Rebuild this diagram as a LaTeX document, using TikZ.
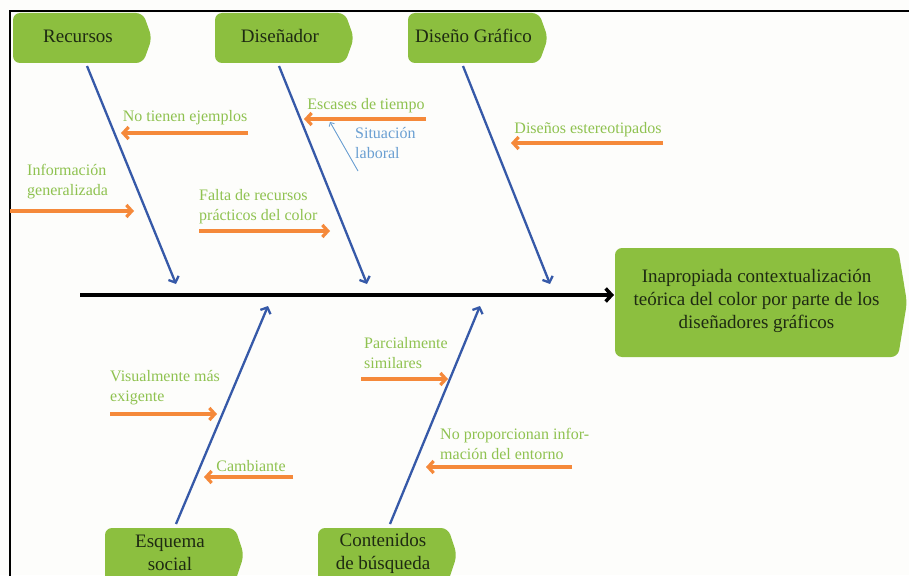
\documentclass[tikz,border=0pt]{standalone}
\usepackage{fontspec}
\setmainfont{Liberation Serif}
\usetikzlibrary{arrows.meta}
\definecolor{boxgreen}{HTML}{8CBF3F}
\definecolor{txtgreen}{HTML}{8FC250}
\definecolor{arrorange}{HTML}{F5893A}
\definecolor{boneblue}{HTML}{3659A8}
\definecolor{lightblue}{HTML}{6A9FD2}
\definecolor{boxtext}{HTML}{1E2A12}
\definecolor{paper}{HTML}{FDFDFB}
\tikzset{
 bonebox/.style={fill=boxgreen, rounded corners=7pt},
 boxlabel/.style={text=boxtext, font=\fontsize{19}{23}\selectfont, align=center, inner sep=0pt},
 cause/.style={text=txtgreen, font=\fontsize{16}{20}\selectfont, align=left, inner sep=0pt},
 subcause/.style={text=lightblue, font=\fontsize{16}{20}\selectfont, align=left, inner sep=0pt},
 causearrow/.style={draw=arrorange, line width=3.2pt, -{Straight Barb[length=5.5pt,width=12pt]}},
 bone/.style={draw=boneblue, line width=2.3pt, -{Straight Barb[length=5pt,width=11pt]}},
 subarrow/.style={draw=lightblue, line width=0.9pt, -{Straight Barb[length=3pt,width=6pt]}},
 spine/.style={draw=black, line width=3.5pt, -{Straight Barb[length=6pt,width=13pt]}},
 frame/.style={draw=black, line width=1.2pt},
}
\newcommand\fishbox[6]{%
 \fill[bonebox] (#2,#3) -- (#4,#3) -- ({#4+9},{(#3+#5)/2}) -- (#4,#5) -- (#2,#5) -- cycle;
 \node[boxlabel] (#1) at ({(#2+#4)/2},{(#3+#5)/2-2}) {#6};
}
\begin{document}
\begin{tikzpicture}[x=1pt,y=-1pt]
\useasboundingbox (0,0) rectangle (909,575);
\clip (0,0) rectangle (909,575);
\fill[paper] (0,0) rectangle (909,575);
\draw[frame] (10,580) -- (10,11) -- (915,11);

% category boxes
\fishbox{recursos}{13}{13}{143}{63}{Recursos}
\fishbox{disenador}{215}{13}{345}{63}{Diseñador}
\fishbox{grafico}{408}{13}{539}{63}{Diseño Gráfico}
\fishbox{esquema}{105}{528}{235}{582}{Esquema\\social}
\fishbox{contenidos}{318}{528}{448}{582}{Contenidos\\de búsqueda}
\fishbox{effect}{615}{248}{898}{357}{Inapropiada contextualización\\teórica del color por parte de los\\diseñadores gráficos}

% spine
\coordinate (spinestart) at (80,295);
\coordinate (spineend) at (614,295);
\draw[spine] (spinestart) -- (spineend);

% bones
\coordinate (b1s) at (87,66);   \coordinate (b1e) at (176,284);
\coordinate (b2s) at (279,66);  \coordinate (b2e) at (367,284);
\coordinate (b3s) at (463,66);  \coordinate (b3e) at (550,284);
\coordinate (b4s) at (176,524); \coordinate (b4e) at (268,306);
\coordinate (b5s) at (390,524); \coordinate (b5e) at (480,306);
\draw[bone] (b1s) -- (b1e);
\draw[bone] (b2s) -- (b2e);
\draw[bone] (b3s) -- (b3e);
\draw[bone] (b4s) -- (b4e);
\draw[bone] (b5s) -- (b5e);

% causes
\node[cause] (c1) at (185,118) {No tienen ejemplos};
\coordinate (c1s) at (248,133); \coordinate (c1e) at (121,133);
\draw[causearrow] (c1s) -- (c1e);

\node[cause, anchor=west] (c2) at (27,182) {Información\\generalizada};
\coordinate (c2s) at (10,211); \coordinate (c2e) at (134,211);
\draw[causearrow] (c2s) -- (c2e);

\node[cause, anchor=west] (c3) at (199,207) {Falta de recursos\\prácticos del color};
\coordinate (c3s) at (199,231); \coordinate (c3e) at (330,231);
\draw[causearrow] (c3s) -- (c3e);

\node[cause] (c4) at (366,106) {Escases de tiempo};
\coordinate (c4s) at (426,119); \coordinate (c4e) at (304,119);
\draw[causearrow] (c4s) -- (c4e);

\node[subcause, anchor=west] (c4a) at (355,143) {Situación\\laboral};
\coordinate (c4as) at (358,171); \coordinate (c4ae) at (330,122);
\draw[subarrow] (c4as) -- (c4ae);

\node[cause] (c5) at (588,130) {Diseños estereotipados};
\coordinate (c5s) at (663,143); \coordinate (c5e) at (511,143);
\draw[causearrow] (c5s) -- (c5e);

\node[cause, anchor=west] (c6) at (110,388) {Visualmente más\\exigente};
\coordinate (c6s) at (110,414); \coordinate (c6e) at (217,414);
\draw[causearrow] (c6s) -- (c6e);

\node[cause] (c7) at (251,466) {Cambiante};
\coordinate (c7s) at (293,477); \coordinate (c7e) at (204,477);
\draw[causearrow] (c7s) -- (c7e);

\node[cause, anchor=west] (c8) at (364,353) {Parcialmente\\similares};
\coordinate (c8s) at (361,379); \coordinate (c8e) at (448,379);
\draw[causearrow] (c8s) -- (c8e);

\node[cause, anchor=west] (c9) at (440,444) {No proporcionan infor-\\mación del entorno};
\coordinate (c9s) at (572,467); \coordinate (c9e) at (426,467);
\draw[causearrow] (c9s) -- (c9e);
\end{tikzpicture}
\end{document}
